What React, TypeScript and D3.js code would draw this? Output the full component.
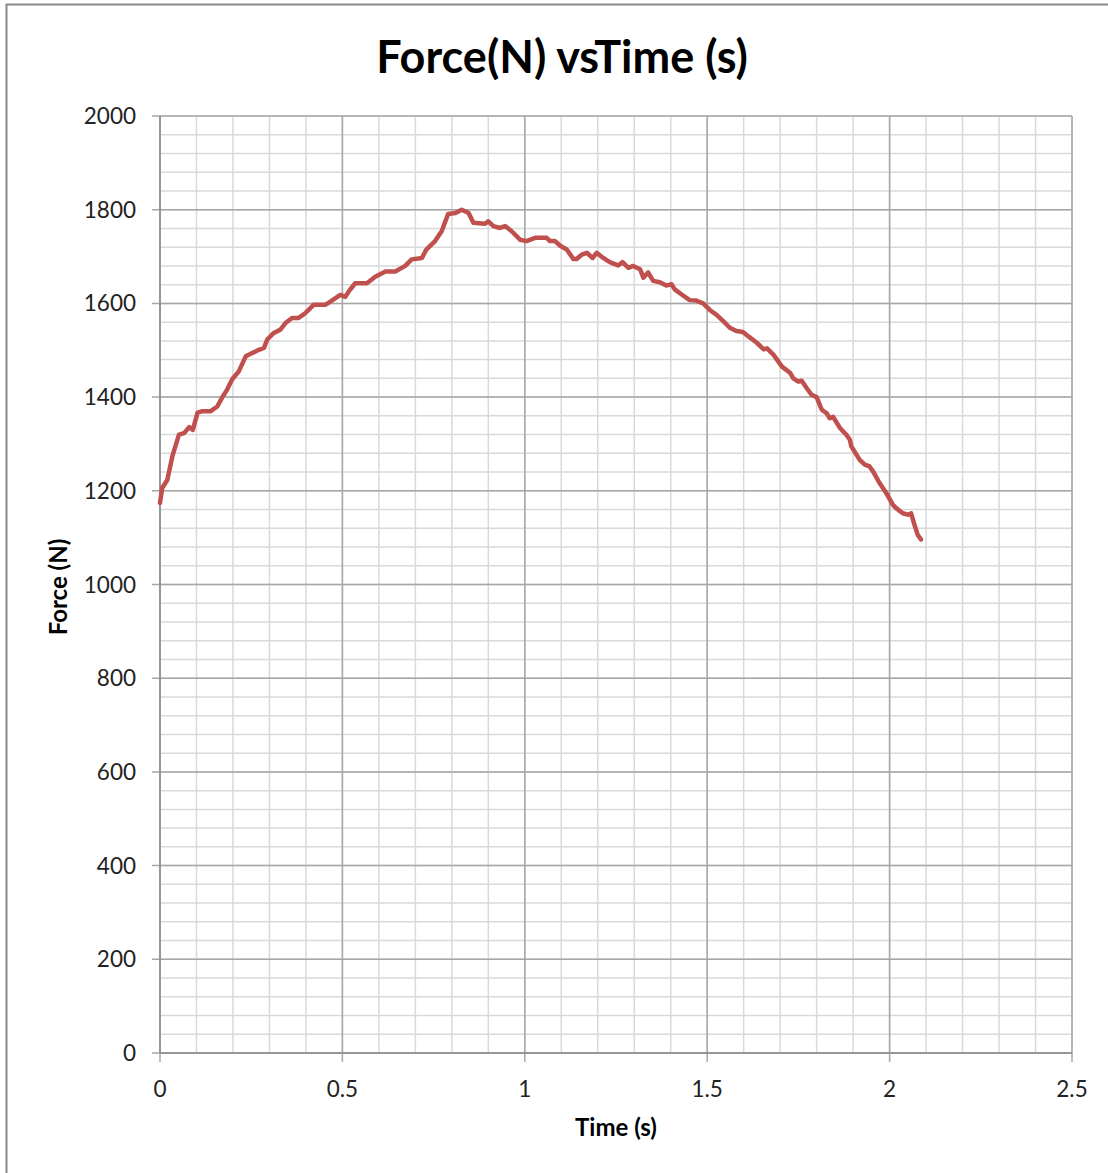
import React from 'react';
import * as d3 from 'd3';

// time (s) and force (N)
const times = [
  0, 0.006, 0.02, 0.034, 0.052, 0.066, 0.08, 0.09, 0.103, 0.116, 0.139, 0.157, 0.171, 0.184, 0.198,
  0.216, 0.235, 0.253, 0.271, 0.285, 0.294, 0.312, 0.33, 0.344, 0.362, 0.38, 0.398, 0.421, 0.453,
  0.467, 0.494, 0.508, 0.517, 0.535, 0.567, 0.59, 0.618, 0.645, 0.672, 0.69, 0.718, 0.73, 0.754,
  0.772, 0.79, 0.81, 0.827, 0.846, 0.859, 0.891, 0.9, 0.914, 0.932, 0.946, 0.964, 0.987, 1.005,
  1.028, 1.042, 1.06, 1.069, 1.083, 1.097, 1.115, 1.133, 1.142, 1.156, 1.17, 1.186, 1.197, 1.215,
  1.233, 1.256, 1.268, 1.284, 1.297, 1.316, 1.325, 1.338, 1.352, 1.37, 1.388, 1.402, 1.411, 1.43,
  1.452, 1.47, 1.489, 1.507, 1.525, 1.544, 1.562, 1.58, 1.598, 1.614, 1.636, 1.655, 1.664, 1.682,
  1.705, 1.727, 1.736, 1.75, 1.759, 1.773, 1.786, 1.8, 1.814, 1.827, 1.836, 1.845, 1.864, 1.882,
  1.891, 1.895, 1.918, 1.932, 1.945, 1.955, 1.973, 1.991, 2.009, 2.018, 2.036, 2.05, 2.059, 2.068,
  2.077, 2.086,
];
const forces = [
  1174, 1206, 1223, 1274, 1320, 1323, 1336, 1330, 1367, 1370, 1370, 1380, 1400, 1416, 1438,
  1455, 1487, 1494, 1501, 1505, 1523, 1537, 1544, 1558, 1569, 1569, 1579, 1597, 1597,
  1604, 1618, 1614, 1625, 1643, 1643, 1657, 1668, 1668, 1680, 1694, 1697, 1715, 1733,
  1754, 1791, 1793, 1800, 1793, 1772, 1770, 1775, 1765, 1761, 1765, 1754, 1736, 1733,
  1740, 1740, 1740, 1733, 1733, 1723, 1715, 1695, 1695, 1704, 1708, 1697, 1708, 1697,
  1688, 1681, 1688, 1676, 1680, 1673, 1655, 1666, 1648, 1645, 1638, 1641, 1630, 1619,
  1607, 1606, 1600, 1586, 1576, 1562, 1548, 1541, 1539, 1529, 1516, 1502, 1504, 1490,
  1465, 1452, 1440, 1433, 1435, 1419, 1405, 1400, 1373, 1366, 1355, 1358, 1334, 1319,
  1309, 1295, 1266, 1256, 1252, 1241, 1216, 1195, 1170, 1163, 1152, 1149, 1152, 1128,
  1106, 1096,
];

const xTickValues = [0, 0.5, 1, 1.5, 2, 2.5];
const yTickValues = [0, 200, 400, 600, 800, 1000, 1200, 1400, 1600, 1800, 2000];
const xMinor = d3.range(0, 26).map(i => i / 10);
const yMinor = d3.range(0, 51).map(i => i * 40);

const title = 'Force(N) vsTime (s)';
const xLabel = 'Time (s)';
const yLabel = 'Force (N)';

const width = 1108;
const height = 1173;
const plotLeft = 160;
const plotRight = 1072;
const plotTop = 116;
const plotBottom = 1053;
const font = 'Lato, "Open Sans", sans-serif';
const lineColor = '#C0504D';
const minorColor = '#D9D9D9';
const majorColor = '#A6A6A6';
const axisColor = '#8C8C8C';

const App = () => {
  const xScale = d3.scaleLinear().domain([0, 2.5]).range([plotLeft, plotRight]);
  const yScale = d3.scaleLinear().domain([0, 2000]).range([plotBottom, plotTop]);

  const points: [number, number][] = times.map((t, i) => [t, forces[i]]);
  const lineString = d3.line<[number, number]>()
    .x(d => xScale(d[0]))
    .y(d => yScale(d[1]))(points) || '';

  return (
    <svg width={width} height={height} style={{display: 'block', background: 'white'}}>
      <style>{`body{margin:0}`}</style>
      <rect x={6.5} y={4.5} width={width + 10} height={height + 10} fill="white" stroke="#898989" strokeWidth={2}/>
      <text x={562} y={73} textAnchor="middle" fontFamily={font} fontWeight="bold" fontSize={45} fill="black">{title}</text>

      {/* minor grid */}
      {xMinor.map(v => (
        <line key={'xm' + v} x1={xScale(v)} x2={xScale(v)} y1={plotTop} y2={plotBottom} stroke={minorColor} strokeWidth={1.5}/>
      ))}
      {yMinor.map(v => (
        <line key={'ym' + v} x1={plotLeft} x2={plotRight} y1={yScale(v)} y2={yScale(v)} stroke={minorColor} strokeWidth={1.5}/>
      ))}
      {/* major grid */}
      {xTickValues.map(v => (
        <line key={'xM' + v} x1={xScale(v)} x2={xScale(v)} y1={plotTop} y2={plotBottom + 9} stroke={majorColor} strokeWidth={1.5}/>
      ))}
      {yTickValues.map(v => (
        <line key={'yM' + v} x1={plotLeft - 8} x2={plotRight} y1={yScale(v)} y2={yScale(v)} stroke={majorColor} strokeWidth={1.5}/>
      ))}
      <line x1={plotLeft} x2={plotLeft} y1={plotTop} y2={plotBottom} stroke={axisColor} strokeWidth={1.5}/>
      <line x1={plotLeft} x2={plotRight} y1={plotBottom} y2={plotBottom} stroke={axisColor} strokeWidth={1.5}/>

      {yTickValues.map(v => (
        <text key={'yl' + v} x={136} y={yScale(v) + 8} textAnchor="end" fontFamily={font} fontSize={22.5} fill="#222">{v}</text>
      ))}
      {xTickValues.map(v => (
        <text key={'xl' + v} x={xScale(v)} y={1097} textAnchor="middle" fontFamily={font} fontSize={22.5} fill="#222">{v}</text>
      ))}

      <text x={616} y={1136} textAnchor="middle" fontFamily={font} fontWeight="bold" fontSize={24} fill="black">{xLabel}</text>
      <text transform={`translate(67, ${587}) rotate(-90)`} textAnchor="middle" fontFamily={font} fontWeight="bold" fontSize={24} fill="black">{yLabel}</text>

      <path d={lineString} fill="none" stroke={lineColor} strokeWidth={4.5} strokeLinejoin="round" strokeLinecap="round"/>
    </svg>
  );
};

export default App;
